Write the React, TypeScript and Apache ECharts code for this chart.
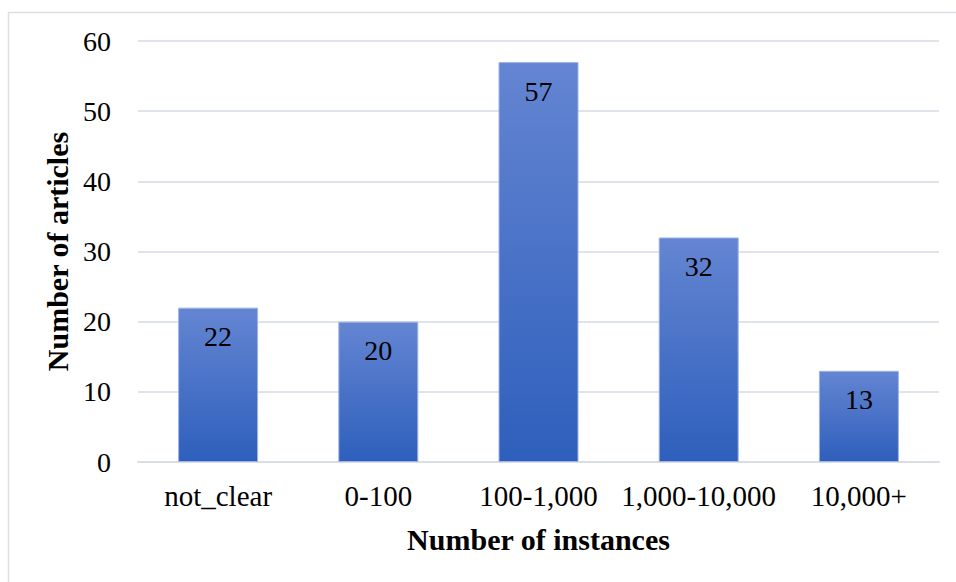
import React, { useEffect, useRef } from "react";
import * as echarts from "echarts";

const categories = ["not_clear", "0-100", "100-1,000", "1,000-10,000", "10,000+"];
const articleCounts = [22, 20, 57, 32, 13];
const yTicks = { min: 0, max: 60, interval: 10 };
const xTitle = "Number of instances";
const yTitle = "Number of articles";

const FONT = "Liberation Serif";

export default function App() {
  const ref = useRef<HTMLDivElement>(null);
  useEffect(() => {
    if (!ref.current) return;
    const chart = echarts.init(ref.current, null, { renderer: "svg" });
    chart.setOption({
      animation: false,
      backgroundColor: "#ffffff",
      textStyle: { fontFamily: FONT },
      graphic: [
        {
          type: "rect",
          shape: { x: 8.5, y: 12.5, width: 2000, height: 2000 },
          style: { fill: "none", stroke: "#dcdfe6", lineWidth: 1.5 },
          silent: true,
        },
      ],
      grid: { left: 138, right: 17, top: 41, bottom: 120, containLabel: false },
      xAxis: {
        type: "category",
        data: categories,
        name: xTitle,
        nameLocation: "middle",
        nameGap: 62,
        nameTextStyle: { fontFamily: FONT, fontWeight: "bold", fontSize: 30, color: "#000" },
        axisLine: { show: true, lineStyle: { color: "#d9dde5", width: 2 } },
        axisTick: { show: false },
        axisLabel: { fontFamily: FONT, fontSize: 29, color: "#000", margin: 19, interval: 0 },
      },
      yAxis: {
        type: "value",
        min: yTicks.min,
        max: yTicks.max,
        interval: yTicks.interval,
        name: yTitle,
        nameLocation: "middle",
        nameGap: 64,
        nameRotate: 90,
        nameTextStyle: { fontFamily: FONT, fontWeight: "bold", fontSize: 30, color: "#000" },
        axisLine: { show: false },
        axisTick: { show: false },
        axisLabel: { fontFamily: FONT, fontSize: 28, color: "#000", margin: 27 },
        splitLine: { show: true, lineStyle: { color: "#dfe3ea", width: 2 } },
      },
      series: [
        {
          type: "bar",
          data: articleCounts,
          barWidth: 80,
          itemStyle: {
            color: new echarts.graphic.LinearGradient(0, 0, 0, 1, [
              { offset: 0, color: "#6485d2" },
              { offset: 1, color: "#2e5fbc" },
            ]),
            borderColor: "#9fb4e3",
            borderWidth: 1,
          },
          label: {
            show: true,
            position: "insideTop",
            distance: 15,
            fontFamily: FONT,
            fontSize: 28,
            color: "#000",
          },
        },
      ],
    });
    return () => chart.dispose();
  }, []);
  return (
    <div
      ref={ref}
      style={{ position: "fixed", left: 0, top: 0, width: 956, height: 582 }}
    />
  );
}
